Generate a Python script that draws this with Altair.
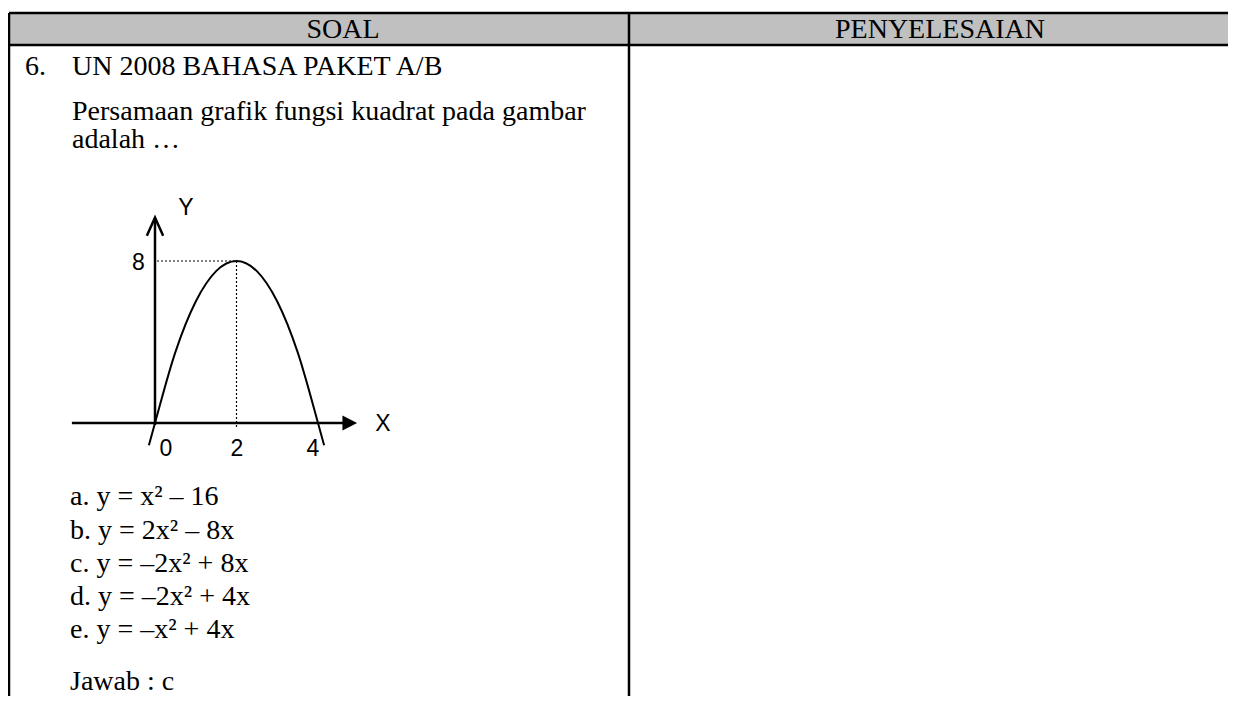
import altair as alt
import pandas as pd

# ---------------- content ----------------
headers = ["SOAL", "PENYELESAIAN"]
question_no = "6."
question_lines = [
    "UN 2008 BAHASA PAKET A/B",
    "Persamaan grafik fungsi kuadrat pada gambar",
    "adalah …",
]
options = [
    "a. y = x² – 16",
    "b. y = 2x² – 8x",
    "c. y = –2x² + 8x",
    "d. y = –2x² + 4x",
    "e. y = –x² + 4x",
]
answer = "Jawab : c"

# parabola points (x, y in graph units)
curve_x = [-0.15, 0, 0.5, 1, 1.5, 2, 2.5, 3, 3.5, 4, 4.15]
curve_y = [-1.1, 0, 3.5, 6, 7.5, 8, 7.5, 6, 3.5, 0, -1.1]
tick_labels = ["0", "2", "4"]
peak_label = "8"
axis_names = ["X", "Y"]
peak_x, peak_y = 2, 8

# ---------------- layout (page pixels) ----------------
W, H = 1220, 688
M = 8
SERIF = "Liberation Serif"
SANS = "Liberation Sans"
FS = 28

# graph anchor: origin of graph at page (155, 423), units in px
GX0, GY0, UX, UY = 155, 423, 40.75, 20.25

x_doc = alt.Scale(domain=[M, M + W], nice=False, zero=False)
y_doc = alt.Scale(domain=[M, M + H], reverse=True, nice=False, zero=False)
x_g = alt.Scale(domain=[(M - GX0) / UX, (M + W - GX0) / UX], nice=False, zero=False)
y_g = alt.Scale(domain=[(GY0 - M - H) / UY, (GY0 - M) / UY], nice=False, zero=False)

# ---- table ----
header_box = pd.DataFrame({"x": [9], "x2": [1240], "y": [13], "y2": [45]})
table_rules = pd.DataFrame({
    "x": [9, 9, 9, 629],
    "x2": [1240, 1240, 9, 629],
    "y": [13, 45, 13, 13],
    "y2": [13, 45, 720, 720],
})
header_df = pd.DataFrame({"t": headers, "x": [343, 940], "y": [38, 38]})

body_df = pd.DataFrame({
    "t": [question_no] + question_lines + options + [answer],
    "x": [25, 72, 72, 72] + [70] * len(options) + [70],
    "y": [75, 75, 120, 148, 505, 539, 572, 605, 638, 690],
})

glabel_df = pd.DataFrame({
    "t": tick_labels + [peak_label] + axis_names,
    "x": [166, 237, 313, 138.5, 383, 186],
    "y": [456, 456, 456, 270, 431, 215],
})

enc_doc = dict(
    x=alt.X("x:Q", scale=x_doc, axis=None),
    y=alt.Y("y:Q", scale=y_doc, axis=None),
)

box = alt.Chart(header_box).mark_rect(color="#c0c0c0").encode(
    x2="x2:Q", y2="y2:Q", **enc_doc)
rules = alt.Chart(table_rules).mark_rule(color="black", strokeWidth=2.5).encode(
    x2="x2:Q", y2="y2:Q", **enc_doc)
head_txt = alt.Chart(header_df).mark_text(
    align="center", baseline="alphabetic", font=SERIF, fontSize=FS, color="black"
).encode(text="t:N", **enc_doc)
body_txt = alt.Chart(body_df).mark_text(
    align="left", baseline="alphabetic", font=SERIF, fontSize=FS, color="black"
).encode(text="t:N", **enc_doc)
g_txt = alt.Chart(glabel_df).mark_text(
    align="center", baseline="alphabetic", font=SANS, fontSize=23, color="black"
).encode(text="t:N", **enc_doc)

doc = alt.layer(box, rules, head_txt, body_txt, g_txt)

# ---- graph ----
enc_g = dict(
    x=alt.X("x:Q", scale=x_g, axis=None),
    y=alt.Y("y:Q", scale=y_g, axis=None),
)
curve_df = pd.DataFrame({"x": curve_x, "y": curve_y, "o": range(len(curve_x))})
curve = alt.Chart(curve_df).mark_line(
    color="black", strokeWidth=2, interpolate="monotone"
).encode(order="o:Q", **enc_g)

axes_df = pd.DataFrame({"x": [-2.04, 0], "x2": [4.65, 0], "y": [0, -0.1], "y2": [0, 10.1]})
axes = alt.Chart(axes_df).mark_rule(color="black", strokeWidth=2.5).encode(
    x2="x2:Q", y2="y2:Q", **enc_g)

yarrow_df = pd.DataFrame({"x": [-0.2, 0, 0.2], "y": [9.25, 10.15, 9.25], "o": [0, 1, 2]})
yarrow = alt.Chart(yarrow_df).mark_line(color="black", strokeWidth=2.5).encode(
    order="o:Q", **enc_g)

xarrow_df = pd.DataFrame({"x": [4.6, 4.96], "y": [-0.37, 0], "y2": [0.37, 0]})
xarrow = alt.Chart(xarrow_df).mark_area(color="black", interpolate="linear").encode(
    y2="y2:Q", **enc_g)

dots_df = pd.DataFrame({
    "x": [0.05, peak_x], "x2": [peak_x, peak_x],
    "y": [peak_y, peak_y], "y2": [peak_y, -0.2],
})
dots = alt.Chart(dots_df).mark_rule(color="black", strokeWidth=1.2, strokeDash=[2, 2]).encode(
    x2="x2:Q", y2="y2:Q", **enc_g)

graph = alt.layer(dots, curve, axes, yarrow, xarrow)

chart = alt.layer(doc, graph).resolve_scale(x="independent", y="independent").properties(
    width=W, height=H, padding=0, autosize=alt.AutoSizeParams(type="none"),
    background="white",
).configure_view(stroke=None)

chart.save("out.html", embed_options={"renderer": "svg", "actions": False})
